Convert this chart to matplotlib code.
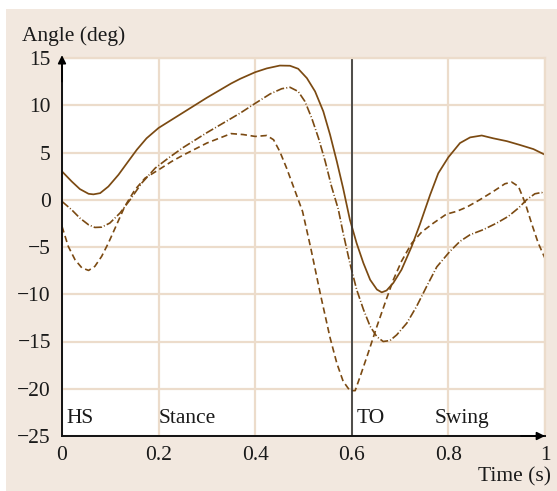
import matplotlib
matplotlib.use("Agg")
import matplotlib.pyplot as plt
from matplotlib.patches import Rectangle

plt.rcParams['font.family'] = ['Liberation Serif', 'DejaVu Serif']

# ---- data ----
t_solid = [0, 0.02, 0.037, 0.055, 0.065, 0.079, 0.096, 0.117, 0.137, 0.155, 0.175, 0.2,
           0.25, 0.3, 0.35, 0.369, 0.4, 0.424, 0.451, 0.472, 0.489, 0.507, 0.524, 0.541,
           0.555, 0.569, 0.582, 0.596, 0.61, 0.624, 0.638, 0.652, 0.662, 0.672, 0.686,
           0.703, 0.724, 0.741, 0.762, 0.779, 0.8, 0.824, 0.845, 0.869, 0.893, 0.921,
           0.948, 0.976, 1.0]
y_solid = [3.0, 1.94, 1.13, 0.63, 0.57, 0.7, 1.4, 2.65, 4.05, 5.3, 6.5, 7.6,
           9.2, 10.8, 12.3, 12.8, 13.5, 13.9, 14.2, 14.18, 13.86, 12.87, 11.46, 9.35,
           6.88, 4.05, 1.23, -2.1, -4.6, -6.7, -8.47, -9.5, -9.8, -9.6, -8.8,
           -7.4, -4.94, -2.6, 0.5, 2.8, 4.5, 6.0, 6.6, 6.8, 6.5, 6.2,
           5.8, 5.36, 4.76]

t_dashdot = [0, 0.02, 0.037, 0.055, 0.068, 0.082, 0.099, 0.12, 0.141, 0.165, 0.193, 0.22,
             0.25, 0.3, 0.35, 0.369, 0.4, 0.431, 0.455, 0.472, 0.489, 0.503, 0.517, 0.531,
             0.545, 0.558, 0.572, 0.582, 0.596, 0.61, 0.624, 0.638, 0.652, 0.665, 0.679,
             0.693, 0.714, 0.734, 0.755, 0.776, 0.803, 0.824, 0.845, 0.872, 0.9, 0.924,
             0.945, 0.962, 0.979, 0.993, 1.0]
y_dashdot = [-0.18, -1.06, -1.94, -2.65, -2.93, -2.9, -2.47, -1.41, 0.0, 1.76, 3.35, 4.4,
             5.5, 7.1, 8.6, 9.17, 10.2, 11.2, 11.75, 11.9, 11.46, 10.4, 8.64, 6.53,
             4.05, 1.41, -1.0, -3.5, -6.7, -9.5, -11.6, -13.4, -14.5, -15.0, -14.9,
             -14.3, -13.05, -11.3, -9.17, -7.1, -5.47, -4.4, -3.7, -3.17, -2.47, -1.76,
             -0.88, 0.0, 0.63, 0.77, 0.53]

t_dashed = [0, 0.013, 0.027, 0.041, 0.055, 0.068, 0.082, 0.096, 0.113, 0.13, 0.151, 0.172,
            0.2, 0.227, 0.25, 0.3, 0.35, 0.375, 0.4, 0.424, 0.438, 0.451, 0.465, 0.479,
            0.498, 0.515, 0.535, 0.555, 0.569, 0.582, 0.596, 0.607, 0.62, 0.634, 0.652,
            0.669, 0.686, 0.703, 0.724, 0.745, 0.769, 0.796, 0.817, 0.838, 0.865, 0.893,
            0.917, 0.931, 0.945, 0.959, 0.972, 0.986, 1.0]
y_dashed = [-2.82, -4.94, -6.35, -7.2, -7.48, -7.05, -6.0, -4.59, -2.65, -0.7, 1.06, 2.29,
            3.17, 4.05, 4.7, 6.0, 7.0, 6.9, 6.7, 6.8, 6.35, 5.1, 3.35, 1.41,
            -1.23, -5.1, -10.0, -14.6, -17.3, -19.2, -20.2, -20.2, -18.3, -16.2, -13.4,
            -10.9, -8.47, -6.5, -4.6, -3.4, -2.47, -1.52, -1.23, -0.78, 0.0, 0.88,
            1.69, 1.87, 1.41, -0.35, -2.47, -4.59, -6.2]

x_ticks = [0, 0.2, 0.4, 0.6, 0.8, 1]
x_ticklabels = ['0', '0.2', '0.4', '0.6', '0.8', '1']
y_ticks = [-25, -20, -15, -10, -5, 0, 5, 10, 15]
y_ticklabels = ['\u221225', '\u221220', '\u221215', '\u221210', '\u22125', '0', '5', '10', '15']

phase_labels = ['HS', 'Stance', 'TO', 'Swing']
phase_x = [0.01, 0.2, 0.609, 0.772]
toe_off = 0.6

# ---- style ----
line_col = '#7b4a12'
grid_col = '#ecdccb'
bg_col = '#f2e8df'
text_col = '#1a1a1a'
fs = 15.5

fig = plt.figure(figsize=(5.57, 4.91), dpi=100)
fig.patch.set_facecolor('white')
fig.add_artist(Rectangle((6 / 557, 0), 1, (491 - 9) / 491, transform=fig.transFigure,
                         facecolor=bg_col, edgecolor='none', zorder=0))

ax = fig.add_axes([62 / 557, 1 - 436 / 491, (545 - 62) / 557, (436 - 58) / 491])
ax.set_facecolor('white')
ax.set_xlim(0, 1)
ax.set_ylim(-25, 15)
ax.set_xticks(x_ticks)
ax.set_xticklabels(x_ticklabels)
ax.set_yticks(y_ticks)
ax.set_yticklabels(y_ticklabels)
ax.tick_params(length=0, labelsize=fs, colors=text_col)
ax.tick_params(axis='y', pad=8)
ax.tick_params(axis='x', pad=7)
ax.grid(True, color=grid_col, lw=1.6)
ax.set_axisbelow(True)
for s in ['top', 'right']:
    ax.spines[s].set_color(grid_col)
    ax.spines[s].set_linewidth(1.6)
for s in ['left', 'bottom']:
    ax.spines[s].set_color('#111111')
    ax.spines[s].set_linewidth(1.4)

ax.plot(t_solid, y_solid, color=line_col, lw=1.25, solid_joinstyle='round')
ax.plot(t_dashdot, y_dashdot, color=line_col, lw=1.2, dashes=(5, 1.3, 0.6, 1.3))
ax.plot(t_dashed, y_dashed, color=line_col, lw=1.2, dashes=(3.8, 2.2))

ax.axvline(toe_off, color='#333333', lw=1.2)

for lab, xp in zip(phase_labels, phase_x):
    ax.text(xp, -23.2, lab, fontsize=fs, va='center', ha='left', color=text_col)

# axis arrows
ax.annotate('', xy=(0, 15.3), xytext=(0, 12.5), xycoords='data',
            arrowprops=dict(arrowstyle='-|>', color='k', lw=1.2, mutation_scale=12,
                            shrinkA=0, shrinkB=0), annotation_clip=False)
ax.annotate('', xy=(1.0, -25), xytext=(0.95, -25), xycoords='data',
            arrowprops=dict(arrowstyle='-|>', color='k', lw=1.2, mutation_scale=12,
                            shrinkA=0, shrinkB=0), annotation_clip=False)

fig.text(22 / 557, 1 - 36 / 491, 'Angle (deg)', fontsize=fs, ha='left', va='center',
         color=text_col)
fig.text(551 / 557, 1 - 477 / 491, 'Time (s)', fontsize=fs, ha='right', va='center',
         color=text_col)

fig.savefig('out.png', dpi=100, facecolor=fig.get_facecolor())
